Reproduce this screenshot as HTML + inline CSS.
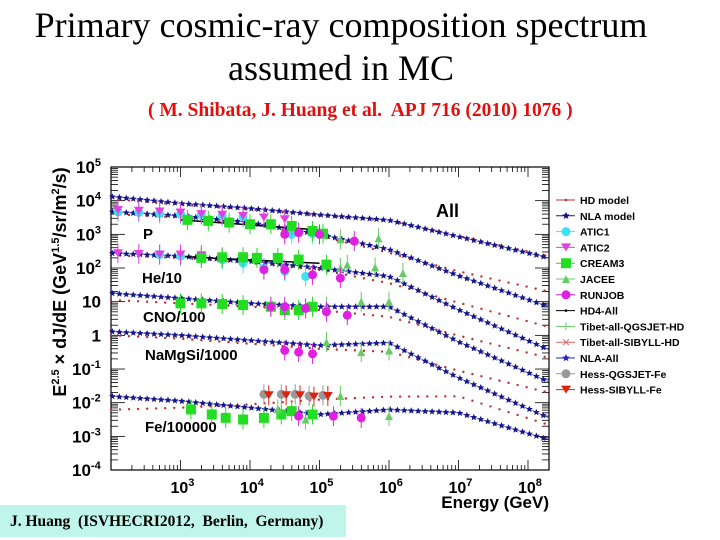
<!DOCTYPE html>
<html><head><meta charset="utf-8"><style>
html,body{margin:0;padding:0;background:#fff;}
#wrap{position:relative;width:720px;height:540px;overflow:hidden;background:#fff;}
.t1{position:absolute;left:0;width:682px;text-align:center;font-family:"Liberation Serif",serif;font-size:36px;color:#000;white-space:nowrap;}
#sub{position:absolute;left:148px;top:100px;font-family:"Liberation Serif",serif;font-weight:bold;font-size:19.5px;color:#e01010;white-space:nowrap;}
#foot{position:absolute;left:0;top:505px;width:346px;height:32px;background:#bff5ea;font-family:"Liberation Serif",serif;font-weight:bold;font-size:15.5px;line-height:34px;padding-left:10px;box-sizing:border-box;white-space:nowrap;}
svg text{font-family:"Liberation Sans",sans-serif;font-weight:bold;}
</style></head><body>
<div id="wrap">
<div class="t1" style="top:4px">Primary cosmic-ray composition spectrum</div>
<div class="t1" style="top:47px">assumed in MC</div>
<div id="sub">( M. Shibata, J. Huang et al.&nbsp; APJ 716 (2010) 1076 )</div>
<svg id="chart" width="720" height="540" style="position:absolute;left:0;top:0"></svg>
<div id="foot">J. Huang&nbsp; (ISVHECRI2012,&nbsp; Berlin,&nbsp; Germany)</div>
</div>
<script>
// ---- data (log10 values) ----
const modelLogE = [2, 3, 4, 5, 6, 7, 8.3];
const allNLA  = [4.12, 3.92, 3.77, 3.58, 3.42, 2.93, 2.3];
const allHD   = [4.05, 3.88, 3.74, 3.56, 3.41, 2.95, 2.35];
const pNLA    = [3.67, 3.55, 3.35, 3.0, 2.55, 1.77, 0.85];
const pHD     = [3.6, 3.5, 3.3, 2.95, 2.45, 1.9, 1.3];
const heNLA   = [2.44, 2.35, 2.2, 2.0, 1.75, 0.76, -0.43];
const heHD    = [2.38, 2.3, 2.15, 1.95, 1.55, 0.97, 0.25];
const cnoNLA  = [1.25, 1.1, 0.95, 0.85, 0.85, -0.19, -1.38];
const cnoHD   = [1.05, 0.95, 0.85, 0.75, 0.55, -0.01, -0.67];
const namgNLA = [0.11, 0.0, -0.15, -0.3, -0.22, -1.26, -2.45];
const namgHD  = [0.0, -0.1, -0.25, -0.4, -0.49, -1.05, -1.7];
const feNLA   = [-1.81, -1.95, -2.15, -2.35, -2.21, -2.3, -3.1];
const feHD    = [-2.21, -2.15, -2.05, -1.91, -1.82, -1.81, -2.66];
const atic1 = [[2.1,3.67],[2.4,3.65],[2.7,3.62],[3.0,3.6],[3.3,3.58],[3.6,3.55],[3.9,3.52],[4.6,3.0],[4.9,3.02],
  [2.7,2.4],[3.0,2.35],[3.3,2.3],[3.6,2.25],[3.9,2.15],[4.2,2.0],[4.5,1.9],[4.8,1.75]];
const atic2 = [[2.1,3.72],[2.4,3.7],[2.7,3.68],[3.0,3.65],[3.3,3.6],[3.6,3.58],[3.9,3.55],[4.2,3.5],[4.5,3.45],
  [2.1,2.44],[2.4,2.42],[2.7,2.4],[3.0,2.4],[3.3,2.38],[3.6,2.3]];
const cream3 = [[3.1,3.43],[3.4,3.4],[3.7,3.35],[4.0,3.3],[4.3,3.3],[4.6,3.25],[4.9,3.1],[5.05,3.02],
  [3.3,2.3],[3.6,2.32],[3.9,2.32],[4.1,2.3],[4.4,2.3],[4.7,2.25],[5.1,2.1],
  [3.0,0.95],[3.3,0.95],[3.6,0.93],[3.9,0.9],[4.3,0.85],[4.5,0.75],[4.7,0.75],[4.9,0.85],
  [3.15,-2.2],[3.45,-2.35],[3.65,-2.45],[3.9,-2.5],[4.2,-2.45],[4.45,-2.35],[4.6,-2.25],[4.9,-2.35]];
const jacee = [[5.3,2.85],[5.85,2.88],[5.3,2.0],[5.4,2.1],[5.8,2.02],[6.2,1.85],
  [5.1,0.85],[5.6,1.0],[6.0,1.0],[5.1,-0.2],[5.6,-0.5],[6.0,-0.45],[5.3,-1.8],[4.4,-2.2],[4.8,-2.5],[6.0,-2.4]];
const runjob = [[4.5,3.0],[4.7,3.05],[5.0,3.0],[5.5,2.8],[4.2,1.95],[4.5,1.95],[4.9,1.8],[5.3,1.7],
  [4.3,0.85],[4.5,0.85],[4.8,0.8],[5.1,0.7],[5.4,0.6],[4.5,-0.45],[4.7,-0.5],[4.9,-0.55],
  [4.7,-2.4],[5.2,-2.4],[5.6,-2.45]];
const hessQ = [[4.2,-1.75],[4.45,-1.75],[4.65,-1.75],[4.85,-1.8],[5.05,-1.78]];
const hessS = [[4.27,-1.78],[4.52,-1.78],[4.72,-1.78],[4.92,-1.82],[5.12,-1.8]];
const hd4 = [[[3.0,3.43],[5.0,3.13]],[[3.0,2.34],[5.0,2.14]]];
const xTicks = [3,4,5,6,7,8];
const yTicks = [5,4,3,2,1,0,-1,-2,-3,-4];
const yLabels = ["10|5","10|4","10|3","10|2","10","1","10|-1","10|-2","10|-3","10|-4"];
const legendNames = ["HD model","NLA model","ATIC1","ATIC2","CREAM3","JACEE","RUNJOB","HD4-All","Tibet-all-QGSJET-HD","Tibet-all-SIBYLL-HD","NLA-All","Hess-QGSJET-Fe","Hess-SIBYLL-Fe"];

// ---- geometry ----
const L=111,R=549,T=167,B=470;
const xS = le => L + (le-2)*69.5;
const yS = lv => T + (5-lv)*33.67;
const svg=document.getElementById('chart');
const NS='http://www.w3.org/2000/svg';
function mk(tag,attrs,parent){const e=document.createElementNS(NS,tag);for(const k in attrs)e.setAttribute(k,attrs[k]);(parent||svg).appendChild(e);return e;}
function interp(arr,le){for(let i=0;i<modelLogE.length-1;i++){if(le<=modelLogE[i+1]){const f=(le-modelLogE[i])/(modelLogE[i+1]-modelLogE[i]);return arr[i]+f*(arr[i+1]-arr[i]);}}return arr[arr.length-1];}
function starPath(cx,cy,r){let d='';for(let i=0;i<10;i++){const a=-Math.PI/2+i*Math.PI/5;const rr=i%2?r*0.45:r;d+=(i?'L':'M')+(cx+rr*Math.cos(a)).toFixed(1)+' '+(cy+rr*Math.sin(a)).toFixed(1);}return d+'Z';}

// frame
const frame=mk('rect',{x:L,y:T,width:R-L,height:B-T,fill:'none',stroke:'#000','stroke-width':1.2});



// y ticks (left and right)
for(let d=-4;d<5;d++){for(let m=1;m<10;m++){const y=yS(d+Math.log10(m));const len=m===1?14:7;
  mk('line',{x1:L,x2:L+len,y1:y,y2:y,stroke:'#000','stroke-width':0.8});
  mk('line',{x1:R,x2:R-len,y1:y,y2:y,stroke:'#000','stroke-width':0.8});}}
// x ticks
for(let d=2;d<8.3;d++){for(let m=1;m<10;m++){const le=d+Math.log10(m);if(le>8.3)break;const x=xS(le);const len=m===1?10:5;
  mk('line',{x1:x,x2:x,y1:B,y2:B-len,stroke:'#000','stroke-width':0.8});
  mk('line',{x1:x,x2:x,y1:T,y2:T+len,stroke:'#000','stroke-width':0.8});}}
xTicks.forEach(t=>{const tx=mk('text',{x:xS(t)-10,y:493,'font-size':16});
  
  
  tx.textContent='10';const s=mk('tspan',{dy:-7,'font-size':11},tx);s.textContent=t;});
yTicks.forEach((t,i)=>{const parts=yLabels[i].split('|');
  let x, anchor='start';
  if(parts[1]){x=101-19-(parts[1].length>1?10:6);}else{x=101;anchor='end';}
  const tx=mk('text',{x:x,y:yS(t)+6,'font-size':17,'text-anchor':anchor});
  
  
  tx.textContent=parts[0];if(parts[1]){const s=mk('tspan',{dy:-7,'font-size':11},tx);s.textContent=parts[1];}});
// x-axis title
const xt=mk('text',{x:549,y:508,'font-size':17,'text-anchor':'end'});xt.textContent='Energy (GeV)';


// y-axis title
const yt=mk('text',{x:0,y:0,'font-size':18,'text-anchor':'middle',transform:'translate(66,282) rotate(-90)'});


yt.innerHTML='E<tspan dy="-7" font-size="11">2.5</tspan><tspan dy="7"> \u00d7 dJ/dE (GeV</tspan><tspan dy="-7" font-size="11">1.5</tspan><tspan dy="7">/sr/m</tspan><tspan dy="-7" font-size="11">2</tspan><tspan dy="7">/s)</tspan>';

// component labels
[["All",436,217,18],["P",143,239,15],["He/10",142,283,15],["CNO/100",143,322,15],["NaMgSi/1000",145,360,15],["Fe/100000",145,432,15]].forEach(a=>{
  const t=mk('text',{x:a[1],y:a[2],'font-size':a[3]});t.textContent=a[0];
  
  });

// models
const models=[[allHD,allNLA],[pHD,pNLA],[heHD,heNLA],[cnoHD,cnoNLA],[namgHD,namgNLA],[feHD,feNLA]];
models.forEach(pair=>{
  const gH=mk('g',{});
  for(let le=2;le<=8.3;le+=0.13){mk('circle',{cx:xS(le),cy:yS(interp(pair[0],le)),r:1.2,fill:'#b33'},gH);}
  const gN=mk('g',{});
  let pts='';for(let le=2;le<=8.3;le+=0.05){pts+=xS(le)+','+yS(interp(pair[1],le))+' ';}
  mk('polyline',{points:pts,fill:'none',stroke:'#33c','stroke-width':0.6},gN);
  for(let le=2.02;le<=8.3;le+=0.1){mk('path',{d:starPath(xS(le),yS(interp(pair[1],le)),3.6),fill:'#16168a'},gN);}
});
// hd4 lines
hd4.forEach(s=>{const l=mk('line',{x1:xS(s[0][0]),y1:yS(s[0][1]),x2:xS(s[1][0]),y2:yS(s[1][1]),stroke:'#000','stroke-width':1.5});
  });

function marker(type,x,y,col,g){
  if(type==='c')mk('circle',{cx:x,cy:y,r:4.5,fill:col},g);
  else if(type==='s')mk('rect',{x:x-5,y:y-5,width:10,height:10,fill:col},g);
  else if(type==='v')mk('path',{d:`M${x-5} ${y-4}L${x+5} ${y-4}L${x} ${y+4}Z`,fill:col},g);
  else if(type==='^')mk('path',{d:`M${x-4} ${y+4}L${x+4} ${y+4}L${x} ${y-4}Z`,fill:col},g);
}
const sets=[[atic1,'c','#3de3f0','atic1'],[atic2,'v','#e040e0','atic2'],[cream3,'s','#22dd22','cream3'],[jacee,'^','#6c6','jacee'],[runjob,'c','#e020e0','runjob'],[hessQ,'c','#999','hess-qgsjet'],[hessS,'v','#d21','hess-sibyll']];
sets.forEach(s=>{const g=mk('g',{});
  s[0].forEach(p=>{const x=xS(p[0]),y=yS(p[1]);mk('line',{x1:x,x2:x,y1:y-10,y2:y+10,stroke:s[2],'stroke-width':1},g);marker(s[1],x,y,s[2],g);});});

// legend
const legCols=['#b33','#16168a','#3de3f0','#e040e0','#22dd22','#6c6','#e020e0','#000','#6c6','#d66','#22c','#999','#d21'];
const legM=['d','*','c','v','s','^','c','d','+','x','*','c','v'];
legendNames.forEach((n,i)=>{const y=200+i*15.8;const g=mk('g',{});
  
  
  mk('line',{x1:556,x2:575,y1:y,y2:y,stroke:legCols[i],'stroke-width':1},g);
  const m=legM[i];
  if(m==='*')mk('path',{d:starPath(566,y,4),fill:legCols[i]},g);
  else if(m==='d')mk('circle',{cx:566,cy:y,r:1.3,fill:legCols[i]},g);
  else if(m==='+')mk('line',{x1:566,x2:566,y1:y-4,y2:y+4,stroke:legCols[i]},g);
  else if(m==='x'){mk('path',{d:`M563 ${y-3}L569 ${y+3}M569 ${y-3}L563 ${y+3}`,stroke:legCols[i]},g);}
  else marker(m,566,y,legCols[i],g);
  const t=mk('text',{x:580,y:y+4,'font-size':10.5},g);t.textContent=n;});
</script>
</body></html>
